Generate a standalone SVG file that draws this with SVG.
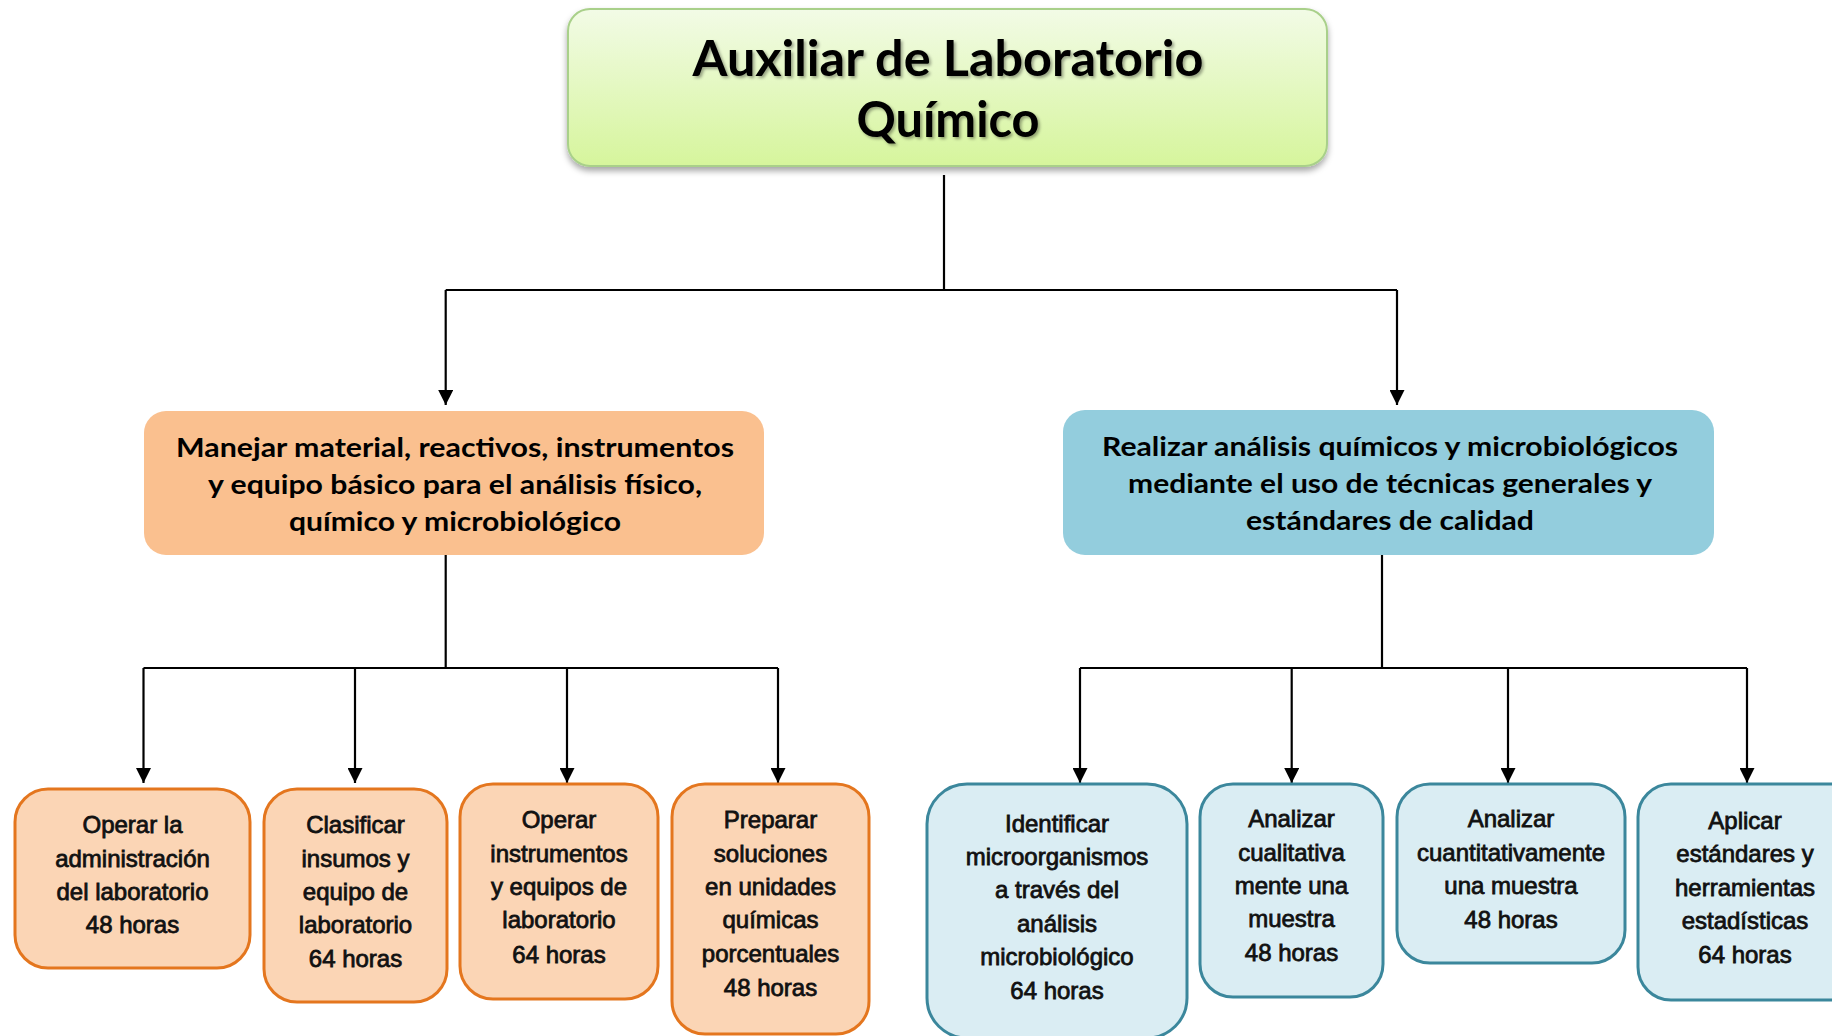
<svg xmlns="http://www.w3.org/2000/svg" width="1832" height="1036" viewBox="0 0 1832 1036">
<style>
.conn{fill:none;stroke:#000;stroke-width:2.2}
.title{font-family:Lato,"Open Sans",sans-serif;font-weight:bold;font-size:50px;fill:#000;text-anchor:middle}
.mid{font-family:Lato,"Open Sans",sans-serif;font-weight:bold;font-size:27px;fill:#000;text-anchor:middle}
.leaf{font-family:"Liberation Sans",Arial,sans-serif;font-size:24px;fill:#111;stroke:#111;stroke-width:0.8;text-anchor:middle}
.lo{fill:#fbd5b5;stroke:#e4761e;stroke-width:3}
.lb{fill:#daedf3;stroke:#3b879c;stroke-width:3}
</style>
<defs>
<linearGradient id="gTop" x1="0" y1="0" x2="0" y2="1">
<stop offset="0" stop-color="#f2fbe6"/>
<stop offset="1" stop-color="#d6f59c"/>
</linearGradient>
<filter id="sh" x="-5%" y="-10%" width="110%" height="130%">
<feDropShadow dx="0" dy="4" stdDeviation="3" flood-color="#000" flood-opacity="0.35"/>
</filter>
<filter id="tsh" x="-5%" y="-20%" width="110%" height="150%">
<feDropShadow dx="2" dy="2" stdDeviation="1.5" flood-color="#000" flood-opacity="0.35"/>
</filter>
<marker id="arr" viewBox="0 0 10 10" refX="10" refY="5" markerUnits="userSpaceOnUse" markerWidth="15" markerHeight="15" orient="auto">
<path d="M0,0 L10,5 L0,10 z" fill="#000"/>
</marker>
</defs>
<g id="connectors">
<path class="conn" d="M944,175 V290"/>
<path class="conn" d="M445.7,290 H1397"/>
<path class="conn" d="M445.7,290 V405" marker-end="url(#arr)"/>
<path class="conn" d="M1397,290 V405" marker-end="url(#arr)"/>
<path class="conn" d="M445.7,555 V668"/>
<path class="conn" d="M143.5,668 H778"/>
<path class="conn" d="M143.5,668 V783" marker-end="url(#arr)"/>
<path class="conn" d="M355,668 V783" marker-end="url(#arr)"/>
<path class="conn" d="M567,668 V783" marker-end="url(#arr)"/>
<path class="conn" d="M778,668 V783" marker-end="url(#arr)"/>
<path class="conn" d="M1382,555 V668"/>
<path class="conn" d="M1080,668 H1747"/>
<path class="conn" d="M1080,668 V783" marker-end="url(#arr)"/>
<path class="conn" d="M1291.7,668 V783" marker-end="url(#arr)"/>
<path class="conn" d="M1508,668 V783" marker-end="url(#arr)"/>
<path class="conn" d="M1747,668 V783" marker-end="url(#arr)"/>
</g>
<g id="root">
<rect x="568" y="9" width="759" height="157" rx="22" fill="url(#gTop)" stroke="#a9d08a" stroke-width="2" filter="url(#sh)"/>
<g filter="url(#tsh)">
<text class="title" x="948" y="76" textLength="511" lengthAdjust="spacingAndGlyphs">Auxiliar de Laboratorio</text>
<text class="title" x="948" y="137" textLength="183" lengthAdjust="spacingAndGlyphs">Químico</text>
</g>
</g>
<g id="m1">
<rect x="144" y="411" width="620" height="144" rx="22" fill="#fac08f"/>
<text class="mid" x="455" y="457" textLength="558" lengthAdjust="spacingAndGlyphs">Manejar material, reactivos, instrumentos</text>
<text class="mid" x="455" y="494" textLength="494" lengthAdjust="spacingAndGlyphs">y equipo básico para el análisis físico,</text>
<text class="mid" x="455" y="531" textLength="332" lengthAdjust="spacingAndGlyphs">químico y microbiológico</text>
</g>
<g id="m2">
<rect x="1063" y="410" width="651" height="145" rx="22" fill="#93cddd"/>
<text class="mid" x="1390" y="456" textLength="576" lengthAdjust="spacingAndGlyphs">Realizar análisis químicos y microbiológicos</text>
<text class="mid" x="1390" y="493" textLength="524" lengthAdjust="spacingAndGlyphs">mediante el uso de técnicas generales y</text>
<text class="mid" x="1390" y="530" textLength="288" lengthAdjust="spacingAndGlyphs">estándares de calidad</text>
</g>
<g id="l1">
<rect class="lo" x="15" y="789" width="235" height="179" rx="33"/>
<text class="leaf" x="132.5" y="833">Operar la</text>
<text class="leaf" x="132.5" y="867">administración</text>
<text class="leaf" x="132.5" y="900">del laboratorio</text>
<text class="leaf" x="132.5" y="933">48 horas</text>
</g>
<g id="l2">
<rect class="lo" x="264" y="789" width="183" height="213" rx="33"/>
<text class="leaf" x="355.5" y="833">Clasificar</text>
<text class="leaf" x="355.5" y="867">insumos y</text>
<text class="leaf" x="355.5" y="900">equipo de</text>
<text class="leaf" x="355.5" y="933">laboratorio</text>
<text class="leaf" x="355.5" y="967">64 horas</text>
</g>
<g id="l3">
<rect class="lo" x="460" y="784" width="198" height="215" rx="33"/>
<text class="leaf" x="559" y="828">Operar</text>
<text class="leaf" x="559" y="862">instrumentos</text>
<text class="leaf" x="559" y="895">y equipos de</text>
<text class="leaf" x="559" y="928">laboratorio</text>
<text class="leaf" x="559" y="963">64 horas</text>
</g>
<g id="l4">
<rect class="lo" x="672" y="784" width="197" height="250" rx="33"/>
<text class="leaf" x="770.5" y="828">Preparar</text>
<text class="leaf" x="770.5" y="862">soluciones</text>
<text class="leaf" x="770.5" y="895">en unidades</text>
<text class="leaf" x="770.5" y="928">químicas</text>
<text class="leaf" x="770.5" y="962">porcentuales</text>
<text class="leaf" x="770.5" y="996">48 horas</text>
</g>
<g id="l5">
<rect class="lb" x="927" y="784" width="260" height="254" rx="40"/>
<text class="leaf" x="1057" y="832">Identificar</text>
<text class="leaf" x="1057" y="865">microorganismos</text>
<text class="leaf" x="1057" y="898">a través del</text>
<text class="leaf" x="1057" y="932">análisis</text>
<text class="leaf" x="1057" y="965">microbiológico</text>
<text class="leaf" x="1057" y="999">64 horas</text>
</g>
<g id="l6">
<rect class="lb" x="1200" y="784" width="183" height="213" rx="33"/>
<text class="leaf" x="1291.5" y="827">Analizar</text>
<text class="leaf" x="1291.5" y="861">cualitativa</text>
<text class="leaf" x="1291.5" y="894">mente una</text>
<text class="leaf" x="1291.5" y="927">muestra</text>
<text class="leaf" x="1291.5" y="961">48 horas</text>
</g>
<g id="l7">
<rect class="lb" x="1397" y="784" width="228" height="179" rx="33"/>
<text class="leaf" x="1511" y="827">Analizar</text>
<text class="leaf" x="1511" y="861">cuantitativamente</text>
<text class="leaf" x="1511" y="894">una muestra</text>
<text class="leaf" x="1511" y="928">48 horas</text>
</g>
<g id="l8">
<rect class="lb" x="1638" y="784" width="232" height="216" rx="33"/>
<text class="leaf" x="1745" y="829">Aplicar</text>
<text class="leaf" x="1745" y="862">estándares y</text>
<text class="leaf" x="1745" y="896">herramientas</text>
<text class="leaf" x="1745" y="929">estadísticas</text>
<text class="leaf" x="1745" y="963">64 horas</text>
</g>
</svg>
